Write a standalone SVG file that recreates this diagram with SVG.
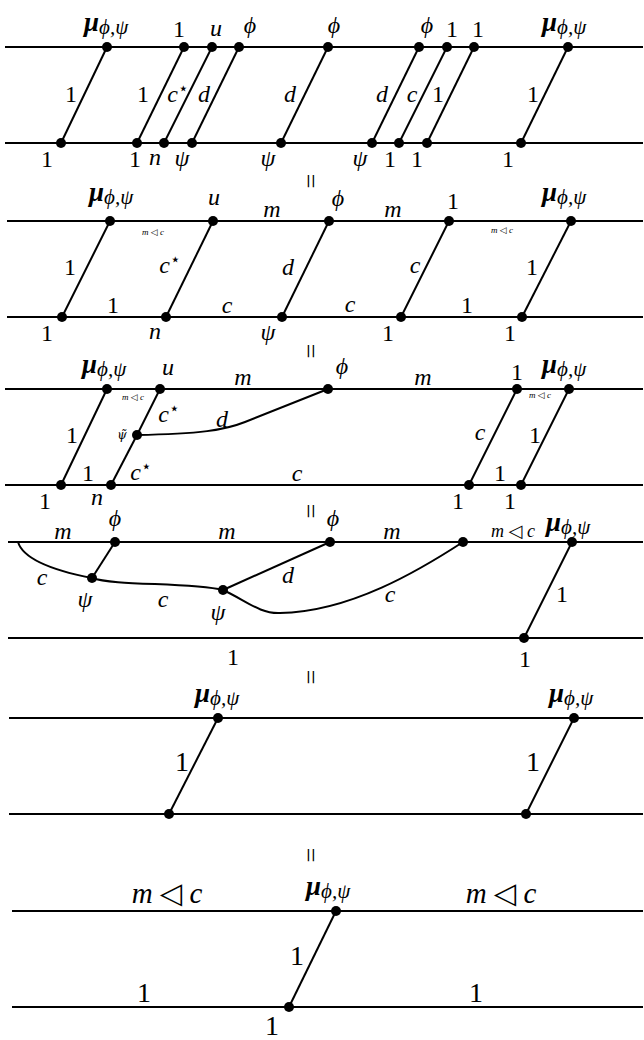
<svg xmlns="http://www.w3.org/2000/svg" width="644" height="1040" viewBox="0 0 644 1040">
<style>
.w{stroke:#000;stroke-width:2;fill:none}
.d{fill:#000}
text{font-family:"Liberation Serif","DejaVu Serif","DejaVu Sans",serif;font-size:24px;fill:#000;text-anchor:middle}
.i{font-style:italic}
.st{text-anchor:start}
.mu{font-weight:bold;font-style:italic;font-size:27px}
.sub{font-size:21px;font-style:italic;font-weight:normal}
.sm{font-size:9px;font-style:italic}
.md{font-size:18px;font-style:italic}
.lg{font-size:29px;font-style:italic}
.big{font-size:28px}
.eq{font-size:26px}
.sup{font-family:"DejaVu Sans",sans-serif;font-size:17px;font-style:normal}
.tri{font-family:"DejaVu Sans",sans-serif;font-style:normal}
.pt{font-family:"DejaVu Serif",serif;font-size:12px;font-style:italic}
</style>
<rect width="644" height="1040" fill="#fff"/>

<!-- connectors -->
<g id="connectors">
  <!-- panel 1 -->
  <line class="w" x1="5" y1="47" x2="643" y2="47"/>
  <line class="w" x1="5" y1="143" x2="643" y2="143"/>
  <line class="w" x1="107" y1="47" x2="61" y2="143"/>
  <line class="w" x1="184" y1="47" x2="137" y2="143"/>
  <line class="w" x1="212" y1="47" x2="164" y2="143"/>
  <line class="w" x1="239" y1="47" x2="192" y2="143"/>
  <line class="w" x1="328" y1="47" x2="281" y2="143"/>
  <line class="w" x1="419" y1="47" x2="372" y2="143"/>
  <line class="w" x1="447" y1="47" x2="399" y2="143"/>
  <line class="w" x1="474" y1="47" x2="427" y2="143"/>
  <line class="w" x1="568" y1="47" x2="521" y2="143"/>
  <text x="71" y="102">1</text>
  <text x="143" y="102">1</text>
  <text class="i" x="178" y="102">c<tspan class="sup" dy="-8">⋆</tspan></text>
  <text class="i" x="204" y="102">d</text>
  <text class="i" x="290" y="102">d</text>
  <text class="i" x="382" y="102">d</text>
  <text class="i" x="412" y="102">c</text>
  <text x="438" y="102">1</text>
  <text x="533" y="102">1</text>

  <!-- panel 2 -->
  <line class="w" x1="7" y1="221" x2="643" y2="221"/>
  <line class="w" x1="7" y1="317" x2="643" y2="317"/>
  <line class="w" x1="110" y1="221" x2="62" y2="317"/>
  <line class="w" x1="213" y1="221" x2="166" y2="317"/>
  <line class="w" x1="329" y1="221" x2="282" y2="317"/>
  <line class="w" x1="449" y1="221" x2="401" y2="317"/>
  <line class="w" x1="571" y1="221" x2="522" y2="317"/>
  <text x="70" y="275">1</text>
  <text class="i" x="170" y="273">c<tspan class="sup" dy="-8">⋆</tspan></text>
  <text class="i" x="288" y="275">d</text>
  <text class="i" x="415" y="273">c</text>
  <text x="532" y="275">1</text>
  <text class="sm" x="153" y="235">m <tspan class="tri">◁</tspan> c</text>
  <text class="i" x="272" y="217">m</text>
  <text class="i" x="393" y="217">m</text>
  <text class="sm" x="502" y="233">m <tspan class="tri">◁</tspan> c</text>
  <text x="113" y="313">1</text>
  <text class="i" x="227" y="313">c</text>
  <text class="i" x="350" y="312">c</text>
  <text x="467" y="313">1</text>

  <!-- panel 3 -->
  <line class="w" x1="5" y1="389" x2="643" y2="389"/>
  <line class="w" x1="5" y1="485" x2="643" y2="485"/>
  <line class="w" x1="107" y1="389" x2="61" y2="485"/>
  <line class="w" x1="160" y1="389" x2="137" y2="435"/>
  <line class="w" x1="137" y1="435" x2="111" y2="485"/>
  <line class="w" x1="517" y1="389" x2="469" y2="485"/>
  <line class="w" x1="569" y1="389" x2="521" y2="485"/>
  <path class="w" d="M137,435 C200,434 225,430 245,422 L328,389"/>
  <text x="72" y="443">1</text>
  <text class="i" x="169" y="422">c<tspan class="sup" dy="-8">⋆</tspan></text>
  <text class="i" x="141" y="480">c<tspan class="sup" dy="-8">⋆</tspan></text>
  <text class="i" x="222" y="427">d</text>
  <text class="i" x="480" y="440">c</text>
  <text x="535" y="443">1</text>
  <text class="sm" x="133" y="400">m <tspan class="tri">◁</tspan> c</text>
  <text class="i" x="243" y="385">m</text>
  <text class="i" x="423" y="385">m</text>
  <text class="sm" x="540" y="398">m <tspan class="tri">◁</tspan> c</text>
  <text x="88" y="481">1</text>
  <text class="i" x="297" y="481">c</text>
  <text x="500" y="481">1</text>

  <!-- panel 4 -->
  <line class="w" x1="8" y1="542" x2="643" y2="542"/>
  <line class="w" x1="8" y1="638" x2="643" y2="638"/>
  <path class="w" d="M18,542 Q25,565 92,578"/>
  <line class="w" x1="115" y1="542" x2="92" y2="578"/>
  <path class="w" d="M92,578 C115,586 190,582 223,590"/>
  <line class="w" x1="223" y1="590" x2="330" y2="542"/>
  <path class="w" d="M223,590 C245,600 260,614 280,613 C350,612 420,570 463,542"/>
  <line class="w" x1="572" y1="542" x2="524" y2="638"/>
  <text class="i" x="63" y="539">m</text>
  <text class="i" x="227" y="539">m</text>
  <text class="i" x="392" y="539">m</text>
  <text class="md" x="513" y="537">m <tspan class="tri">◁</tspan> c</text>
  <text class="i" x="42" y="585">c</text>
  <text class="i" x="163" y="607">c</text>
  <text class="i" x="288" y="583">d</text>
  <text class="i" x="390" y="602">c</text>
  <text x="562" y="602">1</text>
  <text x="233" y="665">1</text>

  <!-- panel 5 -->
  <line class="w" x1="9" y1="718" x2="643" y2="718"/>
  <line class="w" x1="9" y1="814" x2="643" y2="814"/>
  <line class="w" x1="218" y1="718" x2="169" y2="814"/>
  <line class="w" x1="574" y1="718" x2="526" y2="814"/>
  <text class="big" x="182" y="771">1</text>
  <text class="big" x="533" y="771">1</text>

  <!-- panel 6 -->
  <line class="w" x1="12" y1="911" x2="643" y2="911"/>
  <line class="w" x1="12" y1="1007" x2="643" y2="1007"/>
  <line class="w" x1="336" y1="911" x2="289" y2="1007"/>
  <text class="lg" x="167" y="903">m <tspan class="tri">◁</tspan> c</text>
  <text class="lg" x="501" y="903">m <tspan class="tri">◁</tspan> c</text>
  <text class="big" x="297" y="965">1</text>
  <text class="big" x="144" y="1002">1</text>
  <text class="big" x="476" y="1002">1</text>
</g>

<!-- equalities -->
<g id="equalities">
  <text class="eq" transform="translate(309,181) rotate(90)" y="7">=</text>
  <text class="eq" transform="translate(309,351) rotate(90)" y="7">=</text>
  <text class="eq" transform="translate(309,511) rotate(90)" y="7">=</text>
  <text class="eq" transform="translate(309,677) rotate(90)" y="7">=</text>
  <text class="eq" transform="translate(309,855) rotate(90)" y="7">=</text>
</g>

<!-- panel 1 nodes -->
<g id="p1-mu1"><circle class="d" cx="107" cy="47" r="5"/><text class="st" x="84" y="31"><tspan class="mu">μ</tspan><tspan class="sub" dy="3">ϕ,ψ</tspan></text></g>
<g id="p1-b1"><circle class="d" cx="61" cy="143" r="5"/><text x="47" y="167">1</text></g>
<g id="p1-t1"><circle class="d" cx="184" cy="47" r="5"/><text x="179" y="37">1</text></g>
<g id="p1-b2"><circle class="d" cx="137" cy="143" r="5"/><text x="135" y="167">1</text></g>
<g id="p1-u"><circle class="d" cx="212" cy="47" r="5"/><text class="i" x="216" y="36">u</text></g>
<g id="p1-n"><circle class="d" cx="164" cy="143" r="5"/><text class="i" x="155" y="165">n</text></g>
<g id="p1-phi1"><circle class="d" cx="239" cy="47" r="5"/><text class="i" x="250" y="33">ϕ</text></g>
<g id="p1-psi1"><circle class="d" cx="192" cy="143" r="5"/><text class="i" x="182" y="166">ψ</text></g>
<g id="p1-phi2"><circle class="d" cx="328" cy="47" r="5"/><text class="i" x="334" y="33">ϕ</text></g>
<g id="p1-psi2"><circle class="d" cx="281" cy="143" r="5"/><text class="i" x="268" y="166">ψ</text></g>
<g id="p1-phi3"><circle class="d" cx="419" cy="47" r="5"/><text class="i" x="427" y="33">ϕ</text></g>
<g id="p1-psi3"><circle class="d" cx="372" cy="143" r="5"/><text class="i" x="360" y="166">ψ</text></g>
<g id="p1-t2"><circle class="d" cx="447" cy="47" r="5"/><text x="452" y="37">1</text></g>
<g id="p1-b3"><circle class="d" cx="399" cy="143" r="5"/><text x="390" y="167">1</text></g>
<g id="p1-t3"><circle class="d" cx="474" cy="47" r="5"/><text x="478" y="37">1</text></g>
<g id="p1-b4"><circle class="d" cx="427" cy="143" r="5"/><text x="417" y="167">1</text></g>
<g id="p1-mu2"><circle class="d" cx="568" cy="47" r="5"/><text class="st" x="542" y="31"><tspan class="mu">μ</tspan><tspan class="sub" dy="3">ϕ,ψ</tspan></text></g>
<g id="p1-b5"><circle class="d" cx="521" cy="143" r="5"/><text x="508" y="167">1</text></g>

<!-- panel 2 nodes -->
<g id="p2-mu1"><circle class="d" cx="110" cy="221" r="5"/><text class="st" x="89" y="201"><tspan class="mu">μ</tspan><tspan class="sub" dy="3">ϕ,ψ</tspan></text></g>
<g id="p2-b1"><circle class="d" cx="62" cy="317" r="5"/><text x="47" y="341">1</text></g>
<g id="p2-u"><circle class="d" cx="213" cy="221" r="5"/><text class="i" x="214" y="205">u</text></g>
<g id="p2-n"><circle class="d" cx="166" cy="317" r="5"/><text class="i" x="155" y="339">n</text></g>
<g id="p2-phi"><circle class="d" cx="329" cy="221" r="5"/><text class="i" x="338" y="206">ϕ</text></g>
<g id="p2-psi"><circle class="d" cx="282" cy="317" r="5"/><text class="i" x="268" y="340">ψ</text></g>
<g id="p2-t1"><circle class="d" cx="449" cy="221" r="5"/><text x="453" y="209">1</text></g>
<g id="p2-b2"><circle class="d" cx="401" cy="317" r="5"/><text x="388" y="341">1</text></g>
<g id="p2-mu2"><circle class="d" cx="571" cy="221" r="5"/><text class="st" x="542" y="201"><tspan class="mu">μ</tspan><tspan class="sub" dy="3">ϕ,ψ</tspan></text></g>
<g id="p2-b3"><circle class="d" cx="522" cy="317" r="5"/><text x="510" y="341">1</text></g>

<!-- panel 3 nodes -->
<g id="p3-mu1"><circle class="d" cx="107" cy="389" r="5"/><text class="st" x="82" y="373"><tspan class="mu">μ</tspan><tspan class="sub" dy="3">ϕ,ψ</tspan></text></g>
<g id="p3-b1"><circle class="d" cx="61" cy="485" r="5"/><text x="45" y="509">1</text></g>
<g id="p3-u"><circle class="d" cx="160" cy="389" r="5"/><text class="i" x="168" y="375">u</text></g>
<g id="p3-psit"><circle class="d" cx="137" cy="435" r="5"/><text class="pt" x="122" y="439">ψ̃</text></g>
<g id="p3-n"><circle class="d" cx="111" cy="485" r="5"/><text class="i" x="97" y="505">n</text></g>
<g id="p3-phi"><circle class="d" cx="328" cy="389" r="5"/><text class="i" x="342" y="374">ϕ</text></g>
<g id="p3-t1"><circle class="d" cx="517" cy="389" r="5"/><text x="517" y="380">1</text></g>
<g id="p3-b2"><circle class="d" cx="469" cy="485" r="5"/><text x="458" y="509">1</text></g>
<g id="p3-mu2"><circle class="d" cx="569" cy="389" r="5"/><text class="st" x="542" y="373"><tspan class="mu">μ</tspan><tspan class="sub" dy="3">ϕ,ψ</tspan></text></g>
<g id="p3-b3"><circle class="d" cx="521" cy="485" r="5"/><text x="510" y="509">1</text></g>

<!-- panel 4 nodes -->
<g id="p4-phi1"><circle class="d" cx="115" cy="542" r="5"/><text class="i" x="115" y="526">ϕ</text></g>
<g id="p4-psi1"><circle class="d" cx="92" cy="578" r="5"/><text class="i" x="85" y="607">ψ</text></g>
<g id="p4-psi2"><circle class="d" cx="223" cy="590" r="5"/><text class="i" x="218" y="620">ψ</text></g>
<g id="p4-phi2"><circle class="d" cx="330" cy="542" r="5"/><text class="i" x="333" y="526">ϕ</text></g>
<g id="p4-x"><circle class="d" cx="463" cy="542" r="5"/></g>
<g id="p4-mu"><circle class="d" cx="572" cy="542" r="5"/><text class="st" x="546" y="531"><tspan class="mu">μ</tspan><tspan class="sub" dy="3">ϕ,ψ</tspan></text></g>
<g id="p4-b1"><circle class="d" cx="524" cy="638" r="5"/><text x="525" y="667">1</text></g>

<!-- panel 5 nodes -->
<g id="p5-mu1"><circle class="d" cx="218" cy="718" r="5"/><text class="st" x="195" y="702"><tspan class="mu">μ</tspan><tspan class="sub" dy="3">ϕ,ψ</tspan></text></g>
<g id="p5-b1"><circle class="d" cx="169" cy="814" r="5"/></g>
<g id="p5-mu2"><circle class="d" cx="574" cy="718" r="5"/><text class="st" x="549" y="702"><tspan class="mu">μ</tspan><tspan class="sub" dy="3">ϕ,ψ</tspan></text></g>
<g id="p5-b2"><circle class="d" cx="526" cy="814" r="5"/></g>

<!-- panel 6 nodes -->
<g id="p6-mu"><circle class="d" cx="336" cy="911" r="5"/><text class="st" x="306" y="895"><tspan class="mu">μ</tspan><tspan class="sub" dy="3">ϕ,ψ</tspan></text></g>
<g id="p6-b1"><circle class="d" cx="289" cy="1007" r="5"/><text class="big" x="272" y="1035">1</text></g>
</svg>
